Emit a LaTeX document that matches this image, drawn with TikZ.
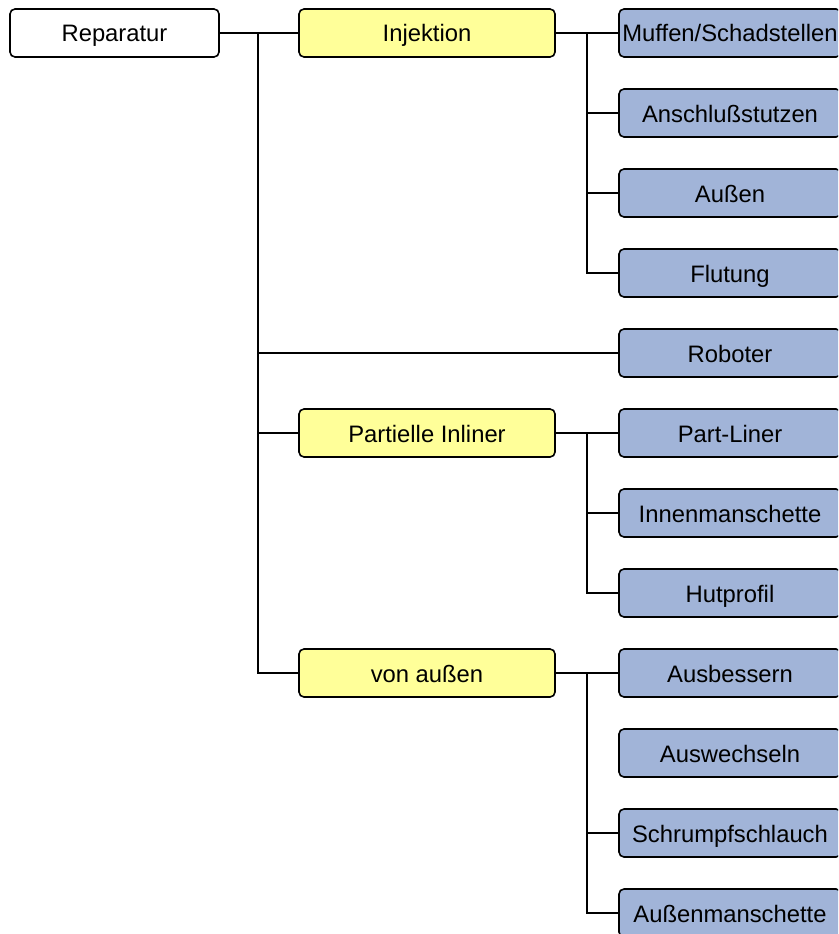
\documentclass[tikz,border=0pt]{standalone}
\usepackage{fontspec}
\setmainfont{Liberation Sans}
\begin{document}
\begin{tikzpicture}[x=1pt,y=-1pt,
  box/.style={draw=black,line width=1.6pt,rounded corners=5pt,minimum height=48pt,
    inner sep=0pt,text height=18pt,text depth=0pt,
    font=\fontsize{23.8}{28}\selectfont,text=black},
  rootbox/.style={box,fill=white,minimum width=209pt},
  midbox/.style={box,fill=yellowfill,minimum width=256pt},
  leafbox/.style={box,fill=bluefill,minimum width=222pt},
  stub/.style={line width=2.2pt},
  branch/.style={line width=1.4pt}]
\definecolor{yellowfill}{RGB}{255,255,153}
\definecolor{bluefill}{RGB}{161,180,216}
\useasboundingbox (0,0) rectangle (838,934);
\clip (0,0) rectangle (838,934);

% root
\node[rootbox] (rep) at (114.5,33) {Reparatur};

% second level
\node[midbox] (inj)  at (427,33)  {Injektion};
\node[midbox] (part) at (427,433) {Partielle Inliner};
\node[midbox] (aus)  at (427,673) {von außen};

% leaves
\node[leafbox] (muf)  at (730,33)  {Muffen/Schadstellen};
\node[leafbox] (ans)  at (730,113) {Anschlußstutzen};
\node[leafbox] (auss) at (730,193) {Außen};
\node[leafbox] (flu)  at (730,273) {Flutung};
\node[leafbox] (rob)  at (730,353) {Roboter};
\node[leafbox] (pl)   at (730,433) {Part-Liner};
\node[leafbox] (inn)  at (730,513) {Innenmanschette};
\node[leafbox] (hut)  at (730,593) {Hutprofil};
\node[leafbox] (ausb) at (730,673) {Ausbessern};
\node[leafbox] (ausw) at (730,753) {Auswechseln};
\node[leafbox] (sch)  at (730,833) {Schrumpfschlauch};
\node[leafbox] (aum)  at (730,913) {Außenmanschette};

% junction points
\coordinate (j0) at (258,33);
\coordinate (j1) at (587,33);
\coordinate (j2) at (587,433);
\coordinate (j3) at (587,673);

% root connectors
\draw[stub] (rep.east) -- (j0);
\draw[branch] (j0) -- (inj.west);
\draw[branch] (j0) |- (aus.west);
\draw[branch] (j0) |- (part.west);
\draw[branch] (j0) |- (rob.west);

% Injektion connectors
\draw[stub] (inj.east) -- (j1);
\draw[branch] (j1) -- (muf.west);
\draw[branch] (j1) |- (flu.west);
\draw[branch] (j1) |- (auss.west);
\draw[branch] (j1) |- (ans.west);

% Partielle Inliner connectors
\draw[stub] (part.east) -- (j2);
\draw[branch] (j2) -- (pl.west);
\draw[branch] (j2) |- (hut.west);
\draw[branch] (j2) |- (inn.west);

% von außen connectors
\draw[stub] (aus.east) -- (j3);
\draw[branch] (j3) -- (ausb.west);
\draw[branch] (j3) |- (aum.west);
\draw[branch] (j3) |- (sch.west);
\end{tikzpicture}
\end{document}
